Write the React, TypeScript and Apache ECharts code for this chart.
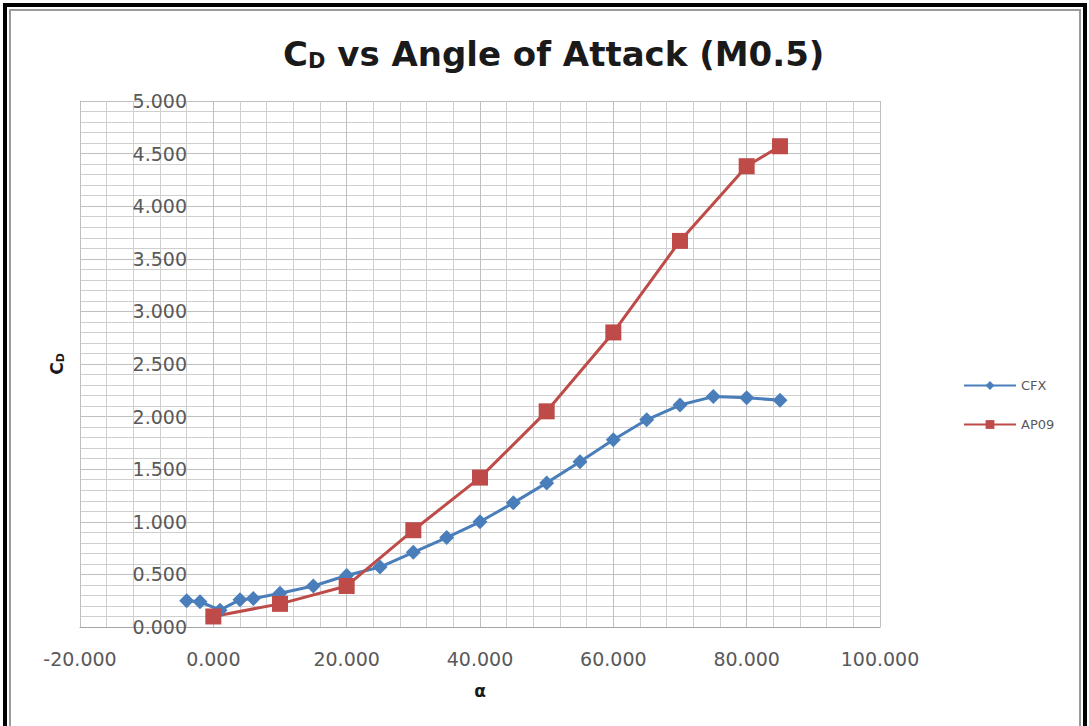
import React, { useEffect, useRef } from "react";
import * as echarts from "echarts";

const cfxAngles = [-4, -2, 1, 4, 6, 10, 15, 20, 25, 30, 35, 40, 45, 50, 55, 60, 65, 70, 75, 80, 85];
const cfxCd = [0.25, 0.24, 0.16, 0.26, 0.27, 0.32, 0.39, 0.49, 0.57, 0.71, 0.85, 1.0, 1.18, 1.37, 1.57, 1.78, 1.97, 2.11, 2.19, 2.18, 2.155];
const ap09Angles = [0, 10, 20, 30, 40, 50, 60, 70, 80, 85];
const ap09Cd = [0.1, 0.22, 0.39, 0.92, 1.42, 2.05, 2.8, 3.67, 4.38, 4.57];
const seriesNames = ["CFX", "AP09"];

const xMin = -20, xMax = 100, xStep = 20;
const yMin = 0, yMax = 5, yStep = 0.5;

export default function App() {
  const ref = useRef<HTMLDivElement>(null);
  useEffect(() => {
    if (!ref.current) return;
    const chart = echarts.init(ref.current, null, { renderer: "svg" });
    const labelColor = "#595959";
    const font = "DejaVu Sans";
    chart.setOption({
      animation: false,
      backgroundColor: "#ffffff",
      title: {
        text: "{a|C}{b|D}{a| vs Angle of Attack (M0.5)}",
        left: 278,
        top: 31,
        textStyle: {
          rich: {
            a: { fontFamily: font, fontWeight: "bold", fontSize: 34, color: "#1a1a1a" },
            b: { fontFamily: font, fontWeight: "bold", fontSize: 21, color: "#1a1a1a", padding: [14, 0, 0, 0] },
          },
        },
      },
      legend: {
        orient: "vertical",
        left: 958,
        top: 374,
        itemWidth: 52,
        itemHeight: 11,
        itemGap: 26,
        textStyle: { fontFamily: font, fontSize: 13, color: labelColor },
        data: seriesNames,
      },
      grid: { left: 80, right: 209, top: 101, bottom: 99, containLabel: false, outerBoundsMode: "none" },
      xAxis: {
        type: "value",
        min: xMin,
        max: xMax,
        interval: xStep,
        name: "α",
        nameLocation: "middle",
        nameGap: 55,
        nameTextStyle: { fontFamily: font, fontWeight: "bold", fontSize: 17, color: "#1a1a1a" },
        axisLine: { onZero: false, lineStyle: { color: "#a6a6a6", width: 1 } },
        axisTick: { show: false },
        axisLabel: {
          formatter: (v: number) => v.toFixed(3),
          fontFamily: font,
          fontSize: 19,
          color: labelColor,
          margin: 22,
        },
        splitLine: { show: true, lineStyle: { color: "#bfbfbf", width: 1 } },
        minorTick: { show: false, splitNumber: 5 },
        minorSplitLine: { show: true, lineStyle: { color: "#cfcfcf", width: 1 } },
      },
      yAxis: {
        type: "value",
        min: yMin,
        max: yMax,
        interval: yStep,
        name: "{a|C}{b|D}",
        nameLocation: "middle",
        nameGap: 14,
        nameRotate: 90,
        nameTextStyle: {
          rich: {
            a: { fontFamily: font, fontWeight: "bold", fontSize: 17, color: "#1a1a1a" },
            b: { fontFamily: font, fontWeight: "bold", fontSize: 11, color: "#1a1a1a", padding: [8, 0, 0, 0] },
          },
        },
        axisLine: { show: true, onZero: false, lineStyle: { color: "#bfbfbf", width: 1 } },
        axisTick: { show: false },
        axisLabel: {
          formatter: (v: number) => v.toFixed(3),
          fontFamily: font,
          fontSize: 19,
          color: labelColor,
          margin: -107,
          align: "right",
        },
        splitLine: { show: true, lineStyle: { color: "#bfbfbf", width: 1 } },
        minorTick: { show: false, splitNumber: 5 },
        minorSplitLine: { show: true, lineStyle: { color: "#cfcfcf", width: 1 } },
      },
      graphic: [
        {
          type: "polyline",
          shape: { points: [[5, 726], [5, 5], [1085, 5], [1085, 726]] },
          style: { stroke: "#000000", lineWidth: 4, fill: null },
          silent: true,
        },
        {
          type: "polyline",
          shape: { points: [[10, 726], [10, 10], [1080, 10], [1080, 726]] },
          style: { stroke: "#9a9a9a", lineWidth: 2, fill: null },
          silent: true,
        },
      ],
      series: [
        {
          name: seriesNames[0],
          type: "line",
          data: cfxAngles.map((a, i) => [a, cfxCd[i]]),
          symbol: "diamond",
          symbolSize: 15,
          itemStyle: { color: "#4a7ebb" },
          lineStyle: { color: "#4a7ebb", width: 3 },
        },
        {
          name: seriesNames[1],
          type: "line",
          data: ap09Angles.map((a, i) => [a, ap09Cd[i]]),
          symbol: "rect",
          symbolSize: 16,
          itemStyle: { color: "#be4b48" },
          lineStyle: { color: "#be4b48", width: 3 },
        },
      ],
    });
    return () => chart.dispose();
  }, []);
  return (
    <div
      ref={ref}
      style={{ position: "fixed", left: 0, top: 0, width: 1089, height: 726, background: "#fff" }}
    />
  );
}
